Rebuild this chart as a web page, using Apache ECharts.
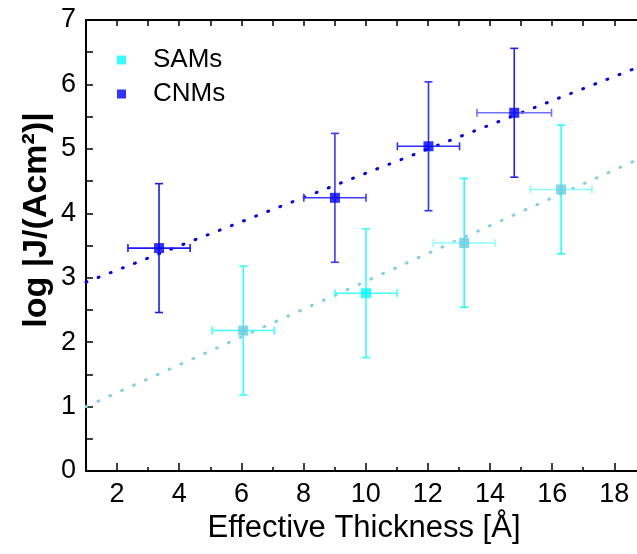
<!DOCTYPE html>
<html>
<head>
<meta charset="utf-8">
<script src="https://cdn.jsdelivr.net/npm/echarts@6/dist/echarts.min.js"></script>
<style>
html,body{margin:0;padding:0;background:#fff;}
#chart{width:637px;height:554px;}
</style>
</head>
<body>
<div id="chart"></div>
<script>
// ---- data ----
const seriesNames = ['SAMs', 'CNMs'];
const samX = [6.06, 10.01, 13.17, 16.29];
const samY = [2.18, 2.76, 3.54, 4.37];
const samXErr = [1.0, 1.0, 1.0, 0.99];
const samYErr = [1.0, 1.0, 1.0, 1.0];
const cnmX = [3.35, 9.01, 12.02, 14.78];
const cnmY = [3.46, 4.24, 5.04, 5.56];
const cnmXErr = [1.0, 1.0, 1.0, 1.2];
const cnmYErr = [1.0, 1.0, 1.0, 1.0];
const samFitX = [1.0, 18.73];
const samFitY = [1.0, 4.83];
const cnmFitX = [1.0, 18.73];
const cnmFitY = [2.93, 6.26];
const xTickLabels = [2, 4, 6, 8, 10, 12, 14, 16, 18];
const xMinorTicks = [3, 5, 7, 9, 11, 13, 15, 17];
const xTopTicks = [2, 3, 4, 5, 6, 7, 8, 9, 10, 11, 12, 13, 14, 15, 16, 17, 18];
const xTitle = 'Effective Thickness [Å]';
const yTitle = 'log |J/(Acm²)|';

// ---- styles ----
const samMarkerColors = ['#66cadd', '#00ffff', '#66cadd', '#66cadd'];
const samVColors = ['#33ffff', '#33ffff', '#22ffff', '#22ffff'];
const samHColors = ['#44ffff', '#44ffff', '#99ffff', '#88ffff'];
const cnmVColors = ['#1a1aff', '#3a3aff', '#3030ff', '#2020ff'];
const cnmHColors = ['#1a1aff', '#3a3aff', '#3030ff', '#7070ff'];

const zip = (a, b) => a.map((v, i) => [v, b[i]]);
const errData = (x, y, ex, ey) => x.map((v, i) => [v, y[i], ex[i], ey[i]]);

function errRender(vCols, hCols) {
  return function (params, api) {
    const i = params.dataIndex;
    const x = api.value(0), y = api.value(1), dx = api.value(2), dy = api.value(3);
    const t = api.coord([x, y + dy]);
    const b = api.coord([x, y - dy]);
    const l = api.coord([x - dx, y]);
    const r = api.coord([x + dx, y]);
    const cap = 4;
    const sv = { stroke: vCols[i], lineWidth: 1.6 };
    const sh = { stroke: hCols[i], lineWidth: 1.6 };
    return {
      type: 'group',
      children: [
        { type: 'line', shape: { x1: t[0], y1: t[1], x2: b[0], y2: b[1] }, style: sv },
        { type: 'line', shape: { x1: t[0] - cap, y1: t[1], x2: t[0] + cap, y2: t[1] }, style: sv },
        { type: 'line', shape: { x1: b[0] - cap, y1: b[1], x2: b[0] + cap, y2: b[1] }, style: sv },
        { type: 'line', shape: { x1: l[0], y1: l[1], x2: r[0], y2: r[1] }, style: sh },
        { type: 'line', shape: { x1: l[0], y1: l[1] - cap, x2: l[0], y2: l[1] + cap }, style: sh },
        { type: 'line', shape: { x1: r[0], y1: r[1] - cap, x2: r[0], y2: r[1] + cap }, style: sh }
      ]
    };
  };
}

const FONT = 'Liberation Sans, Arial, sans-serif';
const xMin = 1, xMax = 18.73;

const chart = echarts.init(document.getElementById('chart'), null, { renderer: 'canvas' });
chart.setOption({
  animation: false,
  backgroundColor: '#fff',
  grid: { left: 86, right: 0, top: 20, bottom: 83, containLabel: false },
  legend: {
    data: [
      { name: seriesNames[0], itemStyle: { color: '#00ffff' } },
      { name: seriesNames[1], itemStyle: { color: '#0000ff' } }
    ],
    orient: 'vertical',
    left: 117, top: 47, padding: 0,
    icon: 'rect', itemWidth: 9, itemHeight: 9, itemGap: 8,
    textStyle: { fontFamily: FONT, fontSize: 26, color: '#000', padding: [0, 0, 0, 22], lineHeight: 26 }
  },
  xAxis: [
    {
      type: 'value', min: xMin, max: xMax, position: 'bottom',
      axisLine: { onZero: false, lineStyle: { color: '#000', width: 2 } },
      axisTick: { inside: true, length: 8, lineStyle: { color: '#000', width: 1.5 }, customValues: xTickLabels },
      axisLabel: { fontFamily: FONT, fontSize: 27, color: '#000', margin: 10, customValues: xTickLabels },
      splitLine: { show: false }
    },
    {
      type: 'value', min: xMin, max: xMax, position: 'bottom',
      axisLine: { show: false },
      axisTick: { inside: true, length: 4, lineStyle: { color: '#000', width: 1.5 }, customValues: xMinorTicks },
      axisLabel: { show: false },
      splitLine: { show: false }
    },
    {
      type: 'value', min: xMin, max: xMax, position: 'top',
      axisLine: { onZero: false, lineStyle: { color: '#000', width: 2 } },
      axisTick: { inside: true, length: 6, lineStyle: { color: '#000', width: 1.5 }, customValues: xTopTicks },
      axisLabel: { show: false },
      splitLine: { show: false }
    }
  ],
  yAxis: {
    type: 'value', min: 0, max: 7, interval: 1,
    axisLine: { show: true, onZero: false, lineStyle: { color: '#000', width: 2 } },
    axisTick: { show: true, inside: true, length: 7, lineStyle: { color: '#000', width: 1.5 } },
    minorTick: { show: true, splitNumber: 2, length: 7, lineStyle: { color: '#000', width: 1.5 } },
    axisLabel: { fontFamily: FONT, fontSize: 27, color: '#000', margin: 10 },
    splitLine: { show: false }
  },
  graphic: [
    { type: 'text', style: { text: xTitle, font: '31px ' + FONT, fill: '#000', textAlign: 'center', textVerticalAlign: 'middle' }, position: [364, 528] },
    { type: 'text', style: { text: yTitle, font: 'bold 34px ' + FONT, fill: '#000', textAlign: 'center', textVerticalAlign: 'middle' }, position: [37, 220], rotation: Math.PI / 2 }
  ],
  series: [
    {
      name: 'SAM fit', type: 'line', data: zip(samFitX, samFitY), showSymbol: false, symbol: 'none',
      lineStyle: { color: '#88cfe0', width: 3, type: [1, 12], cap: 'round' }, z: 1, silent: true
    },
    {
      name: 'CNM fit', type: 'line', data: zip(cnmFitX, cnmFitY), showSymbol: false, symbol: 'none',
      lineStyle: { color: '#0000ee', width: 3, type: [1, 12], cap: 'round' }, z: 1, silent: true
    },
    {
      name: 'SAM err', type: 'custom', data: errData(samX, samY, samXErr, samYErr),
      renderItem: errRender(samVColors, samHColors), z: 2, silent: true
    },
    {
      name: 'CNM err', type: 'custom', data: errData(cnmX, cnmY, cnmXErr, cnmYErr),
      renderItem: errRender(cnmVColors, cnmHColors), z: 2, silent: true
    },
    {
      name: seriesNames[0], type: 'scatter', symbol: 'rect', symbolSize: 10,
      data: zip(samX, samY).map((d, i) => ({ value: d, itemStyle: { color: samMarkerColors[i] } })),
      itemStyle: { color: '#00ffff' }, z: 3
    },
    {
      name: seriesNames[1], type: 'scatter', symbol: 'rect', symbolSize: 10,
      data: zip(cnmX, cnmY), itemStyle: { color: '#0000ff' }, z: 3
    }
  ]
});
</script>
</body>
</html>
